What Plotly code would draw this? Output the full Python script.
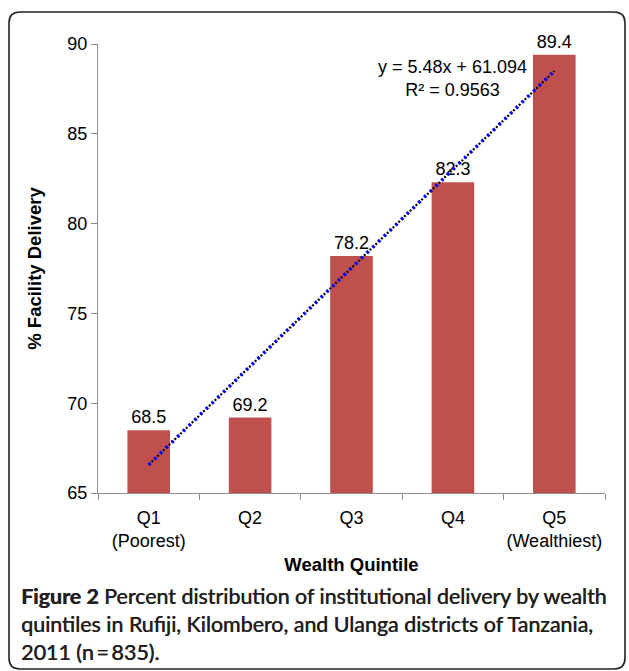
import plotly.graph_objects as go

# data
quintiles = ['Q1<br>(Poorest)', 'Q2', 'Q3', 'Q4', 'Q5<br>(Wealthiest)']
facility_delivery = [68.5, 69.2, 78.2, 82.3, 89.4]
trend_values = [66.574, 72.054, 77.534, 83.014, 88.494]
trend_equation = 'y = 5.48x + 61.094<br>R² = 0.9563'
y_ticks = [65, 70, 75, 80, 85, 90]

W, H = 629, 671
L, R, T, B = 98, 24, 44, 178


def px_x(x):
    return (x - L) / (W - L - R)


def px_y(y):
    return (H - B - y) / (H - T - B)


def rounded_box(x0, y0, x1, y1, r):
    # pixel coords -> paper coords path
    pts = [
        f'M {px_x(x0 + r)},{px_y(y0)}',
        f'L {px_x(x1 - r)},{px_y(y0)}',
        f'Q {px_x(x1)},{px_y(y0)} {px_x(x1)},{px_y(y0 + r)}',
        f'L {px_x(x1)},{px_y(y1 - r)}',
        f'Q {px_x(x1)},{px_y(y1)} {px_x(x1 - r)},{px_y(y1)}',
        f'L {px_x(x0 + r)},{px_y(y1)}',
        f'Q {px_x(x0)},{px_y(y1)} {px_x(x0)},{px_y(y1 - r)}',
        f'L {px_x(x0)},{px_y(y0 + r)}',
        f'Q {px_x(x0)},{px_y(y0)} {px_x(x0 + r)},{px_y(y0)} Z',
    ]
    return ' '.join(pts)


fig = go.Figure()
fig.add_trace(go.Bar(
    x=quintiles, y=facility_delivery,
    marker=dict(color='#C0504D', line=dict(width=0)),
    text=[f'{v:.1f}' for v in facility_delivery],
    textposition='outside', cliponaxis=False,
    textfont=dict(family='Liberation Sans, Arial', size=18, color='#000'),
    showlegend=False,
))
# trendline: black dots under blue dots
fig.add_trace(go.Scatter(
    x=quintiles, y=trend_values, mode='lines',
    line=dict(color='#000000', width=2.2, dash='2px,2px'),
    showlegend=False, hoverinfo='skip',
))
fig.add_trace(go.Scatter(
    x=quintiles, y=trend_values, mode='lines',
    line=dict(color='#0000FF', width=3.5, dash='2.5px,5.5px'),
    showlegend=False, hoverinfo='skip',
))

fig.add_annotation(
    x=3.0, y=px_y(79), xref='x', yref='paper',
    text=trend_equation, showarrow=False, align='center',
    xanchor='center', yanchor='middle',
    font=dict(family='Liberation Sans, Arial', size=18, color='#000'),
)

fig.add_annotation(
    x=px_x(19), y=px_y(581), xref='paper', yref='paper',
    xanchor='left', yanchor='top', align='left', showarrow=False,
    text=('<b>Figure 2</b> Percent distribution of institutional delivery by wealth<br>'
          'quintiles in Rufiji, Kilombero, and Ulanga districts of Tanzania,<br>'
          '2011 (n\u2009=\u2009835).'),
    font=dict(family='Lato, Open Sans', size=21.4, color='#231F20',
              shadow='0.5px 0 0 #231F20'),
)

fig.add_shape(
    type='path', xref='paper', yref='paper',
    path=rounded_box(9, 12, 625, 669, 11),
    line=dict(color='#222222', width=1.6),
)

fig.update_layout(
    width=W, height=H,
    margin=dict(l=L, r=R, t=T, b=B),
    paper_bgcolor='white', plot_bgcolor='white',
    bargap=0.58,
    font=dict(family='Liberation Sans, Arial', size=16, color='#000'),
)
fig.update_yaxes(
    range=[65, 90], tickvals=y_ticks,
    showline=True, linecolor='#8C8C8C', linewidth=1,
    ticks='outside', ticklen=6, tickcolor='#8C8C8C',
    showgrid=False, zeroline=False,
    tickfont=dict(size=18),
    title=dict(text='<b>% Facility Delivery</b>', font=dict(size=18.5), standoff=20),
)
fig.update_xaxes(
    showline=True, linecolor='#8C8C8C', linewidth=1,
    ticks='outside', ticklen=6, tickcolor='#8C8C8C', tickson='boundaries',
    tickangle=0, ticklabelstandoff=8,
    showgrid=False, tickfont=dict(size=18),
    title=dict(text='<b>Wealth Quintile</b>', font=dict(size=18.5), standoff=8),
)

fig.write_html('out.html', config={'displayModeBar': False},
               post_script="document.body.style.margin='0';")
